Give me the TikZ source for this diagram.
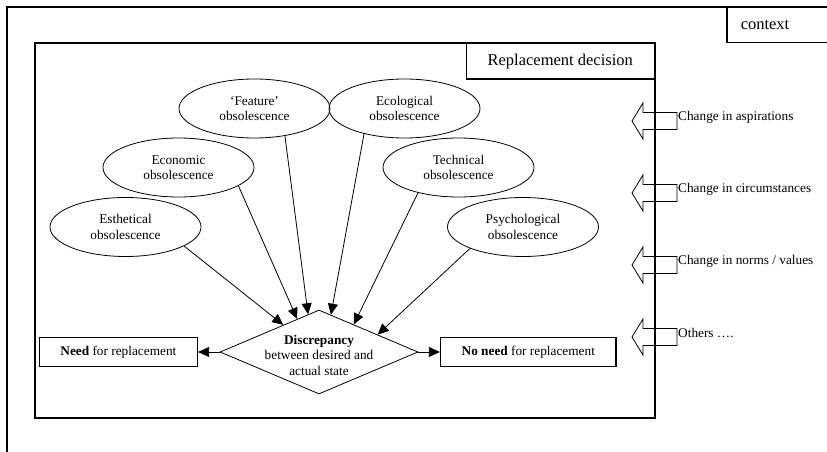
\documentclass[tikz,border=0pt]{standalone}
\usepackage{fontspec}
\setmainfont{Liberation Serif}
\usetikzlibrary{arrows.meta, positioning, shapes.geometric, calc}

\begin{document}
\begin{tikzpicture}[
    x=1pt, y=1pt,
    font=\fontsize{13.3}{15.5}\selectfont,
    node distance=21.5pt,
    obs/.style={ellipse, draw, line width=0.8pt, minimum width=151pt, minimum height=59pt, inner sep=0pt, align=center},
    box/.style={rectangle, draw, line width=1.5pt, minimum height=29pt, inner xsep=21pt, inner ysep=0pt},
    titlebox/.style={rectangle, draw, line width=1.5pt, font=\fontsize{16.5}{19}\selectfont, minimum height=35pt},
    arrow/.style={-{Triangle[length=11pt,width=10pt]}, line width=0.8pt},
    blockarrow/.style={draw, line width=0.8pt, line join=miter}
]

% frame of the whole picture
\useasboundingbox (0,0) rectangle (827,451);
\draw[line width=1.2pt] (7,-2) |- (830,444);
\node[titlebox, anchor=west, text width=80pt, inner xsep=14pt, align=left] (ctx) at (726,426) {context};

% replacement decision frame
\draw[line width=1.8pt] (35,33) rectangle (655,408);
\node[titlebox, anchor=north east, minimum width=188pt] (rd) at (655,408) {Replacement decision};

% kinds of obsolescence
\node[obs] (esth) at (125.5,224) {Esthetical\\obsolescence};
\node[obs] (econ) at (178.5,283.5) {Economic\\obsolescence};
\node[obs] (feat) at (254.5,342.5) {‘Feature’\\obsolescence};
\node[obs] (ecol) at (404.5,342.5) {Ecological\\obsolescence};
\node[obs] (tech) at (458.5,283.5) {Technical\\obsolescence};
\node[obs] (psy) at (523,224) {Psychological\\obsolescence};

% discrepancy and outcomes
\node[diamond, draw, line width=0.8pt, aspect=2.36, minimum width=198pt, minimum height=84pt, inner sep=0pt,
    label={[align=center, yshift=-3pt]center:\textbf{Discrepancy}\\between desired and\\actual state}] (dia) at (319,99) {};
\node[box, left=of dia] (need) {\textbf{Need} for replacement};
\node[box, right=of dia] (noneed) {\textbf{No need} for replacement};

\coordinate (t1) at ($(dia.west)!0.64!(dia.north)$);
\coordinate (t2) at ($(dia.west)!0.78!(dia.north)$);
\coordinate (t3) at ($(dia.west)!0.89!(dia.north)$);
\coordinate (t4) at ($(dia.north)!0.12!(dia.east)$);
\coordinate (t5) at ($(dia.north)!0.35!(dia.east)$);
\coordinate (t6) at ($(dia.north)!0.59!(dia.east)$);

\draw[arrow] (esth.-18) -- (t1);
\draw[arrow] (econ.-17) -- (t2);
\draw[arrow] (feat.-42) -- (t3);
\draw[arrow] (ecol.-148) -- (t4);
\draw[arrow] (tech.-148) -- (t5);
\draw[arrow] (psy.-158) -- (t6);
\draw[arrow] (dia.west) -- (need);
\draw[arrow] (dia.east) -- (noneed);

% changes in the context
\foreach \y/\txt [count=\i] in {330/Change in aspirations, 258/Change in circumstances, 186/{Change in norms / values}, 114/Others ….}{
    \draw[blockarrow] (632,\y) -- ++(11,18) -- ++(0,-9.5) -- ++(34,0) -- ++(0,-17) -- ++(-34,0) -- ++(0,-9.5) -- cycle;
    \node[anchor=west, inner sep=1pt] (chg\i) at (677,\y+4) {\txt};
}

\end{tikzpicture}
\end{document}
